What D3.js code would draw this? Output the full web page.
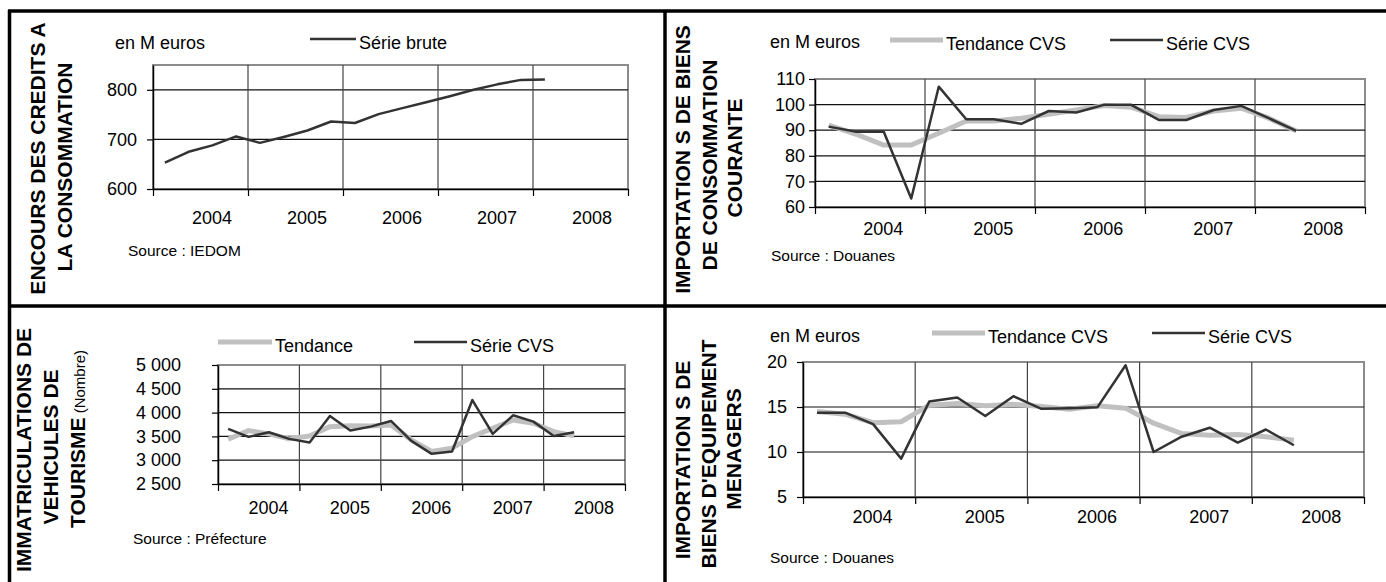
<!DOCTYPE html>
<html>
<head>
<meta charset="utf-8">
<script src="https://cdn.jsdelivr.net/npm/d3@7"></script>
<style>
body { margin: 0; background: #fff; }
svg { display: block; }
text { font-family: "Liberation Sans", Arial, sans-serif; fill: #000; }
</style>
</head>
<body>
<svg id="chart"></svg>
<script>
// quarterly series, first point = 2004 Q1
var years = [2004, 2005, 2006, 2007, 2008];

var creditsBrute = [653, 675, 688, 706, 693, 705, 718, 736, 733, 751, 763, 775, 787, 800, 811, 820, 821];
var creditsTicks = [600, 700, 800];

var consoTendance = [92, 88.4, 84.2, 84.2, 88.8, 93.6, 93.6, 94.7, 96.2, 97.9, 99.6, 99.0, 95.3, 95, 97.5, 98.6, 94.7, 89.7];
var consoCvs = [91.4, 89.4, 89.4, 63.3, 107, 94.3, 94.3, 92.5, 97.5, 96.9, 99.9, 99.9, 94, 94, 97.9, 99.5, 94.7, 89.7];
var consoTicks = [60, 70, 80, 90, 100, 110];

var immatTendance = [3441, 3622, 3552, 3448, 3510, 3705, 3726, 3720, 3740, 3427, 3182, 3253, 3496, 3671, 3845, 3776, 3600, 3510];
var immatCvs = [3657, 3490, 3588, 3448, 3370, 3929, 3622, 3705, 3824, 3406, 3134, 3182, 4264, 3552, 3943, 3810, 3510, 3588];
var immatTicks = [2500, 3000, 3500, 4000, 4500, 5000];

var menagersTendance = [14.5, 14.2, 13.25, 13.36, 15.2, 15.4, 15.15, 15.3, 15.05, 14.75, 15.15, 14.87, 13.2, 12.05, 11.87, 11.95, 11.7, 11.3];
var menagersCvs = [14.37, 14.37, 13.1, 9.26, 15.6, 16.05, 14.0, 16.2, 14.8, 14.87, 14.98, 19.64, 10.0, 11.7, 12.7, 11.05, 12.5, 10.75];
var menagersTicks = [5, 10, 15, 20];

var width = 1386, height = 582;
var darkColor = "#333333", trendColor = "#c0c0c0";
var frLocale = d3.formatLocale({ decimal: ",", thousands: " ", grouping: [3], currency: ["", " €"] });

var svg = d3.select("#chart").attr("width", width).attr("height", height);

// panel frame
var frame = [
    [8, 11, width, 11],
    [9.5, 10, 9.5, height],
    [665, 10, 665, height],
    [8, 306, width, 306]
];
svg.selectAll(".frame").data(frame).enter().append("line")
    .attr("x1", function (d) { return d[0]; })
    .attr("y1", function (d) { return d[1]; })
    .attr("x2", function (d) { return d[2]; })
    .attr("y2", function (d) { return d[3]; })
    .attr("stroke", "#000").attr("stroke-width", 3.5);

var panels = [
    {
        x0: 153, x1: 628, y0: 65, y1: 189, domain: [600, 850], ticks: creditsTicks, pad: 10,
        fmt: d3.format("d"), yearBase: 224,
        series: [{ values: creditsBrute, color: darkColor, w: 2.5 }],
        title: ["ENCOURS DES CREDITS A", "LA CONSOMMATION"], titleX: [37, 64], titleY: [158.5, 167],
        unit: { x: 115, y: 49 },
        legend: [{ x: 310, w: 46, y: 39, color: darkColor, sw: 2.5, label: "Série brute" }],
        source: { text: "Source : IEDOM", x: 128, y: 256 }, unitShow: true
    },
    {
        x0: 815, x1: 1365, y0: 79, y1: 207, domain: [60, 110], ticks: consoTicks, pad: 4,
        fmt: d3.format("d"), yearBase: 235,
        series: [{ values: consoTendance, color: trendColor, w: 5 }, { values: consoCvs, color: darkColor, w: 2.5 }],
        title: ["IMPORTATION S DE BIENS", "DE CONSOMMATION", "COURANTE"], titleX: [682, 709, 734], titleY: [159.5, 165, 158],
        unit: { x: 770, y: 48 },
        legend: [
            { x: 890, w: 53, y: 40, color: trendColor, sw: 5, label: "Tendance CVS" },
            { x: 1110, w: 53, y: 40, color: darkColor, sw: 2.5, label: "Série CVS" }
        ],
        source: { text: "Source : Douanes", x: 771, y: 261 }, unitShow: true
    },
    {
        x0: 218, x1: 625, y0: 365, y1: 484, domain: [2500, 5000], ticks: immatTicks, pad: 31,
        fmt: frLocale.format(","), yearBase: 514,
        series: [{ values: immatTendance, color: trendColor, w: 5 }, { values: immatCvs, color: darkColor, w: 2.5 }],
        title: ["IMMATRICULATIONS DE", "VEHICULES DE", "TOURISME"], titleX: [23, 50, 77], titleY: [450, 447, 439],
        titleNote: " (Nombre)",
        legend: [
            { x: 218, w: 54, y: 342, color: trendColor, sw: 5, label: "Tendance" },
            { x: 414, w: 53, y: 342, color: darkColor, sw: 2.5, label: "Série CVS" }
        ],
        source: { text: "Source : Préfecture", x: 133, y: 544 }, unitShow: false
    },
    {
        x0: 803, x1: 1364, y0: 362, y1: 497, domain: [5, 20], ticks: menagersTicks, pad: 10,
        fmt: d3.format("d"), yearBase: 523,
        series: [{ values: menagersTendance, color: trendColor, w: 5 }, { values: menagersCvs, color: darkColor, w: 2.5 }],
        title: ["IMPORTATION S DE", "BIENS D'EQUIPEMENT", "MENAGERS"], titleX: [682, 708, 733], titleY: [460, 454, 449],
        unit: { x: 770, y: 342 },
        legend: [
            { x: 932, w: 53, y: 333, color: trendColor, sw: 5, label: "Tendance CVS" },
            { x: 1152, w: 53, y: 333, color: darkColor, sw: 2.5, label: "Série CVS" }
        ],
        source: { text: "Source : Douanes", x: 770, y: 563 }, unitShow: true
    }
];

panels.forEach(drawPanel);

function drawPanel(p) {
    var yearEdges = years.concat([years[years.length - 1] + 1]);
    var x = d3.scaleLinear().domain([yearEdges[0], yearEdges[yearEdges.length - 1]]).range([p.x0, p.x1]);
    var y = d3.scaleLinear().domain(p.domain).range([p.y1, p.y0]);
    var g = svg.append("g");

    // plot area border
    g.append("rect")
        .attr("x", p.x0).attr("y", p.y0)
        .attr("width", p.x1 - p.x0).attr("height", p.y1 - p.y0)
        .attr("fill", "none").attr("stroke", "#8c8c8c").attr("stroke-width", 2);

    // gridlines
    g.selectAll(".hgrid")
        .data(p.ticks.filter(function (t) { return t > p.domain[0] && t < p.domain[1]; }))
        .enter().append("line")
        .attr("x1", p.x0).attr("x2", p.x1)
        .attr("y1", function (d) { return y(d); }).attr("y2", function (d) { return y(d); })
        .attr("stroke", "#111").attr("stroke-width", 1.2);

    g.selectAll(".vgrid")
        .data(yearEdges.slice(1, -1))
        .enter().append("line")
        .attr("x1", function (d) { return x(d); }).attr("x2", function (d) { return x(d); })
        .attr("y1", p.y0).attr("y2", p.y1)
        .attr("stroke", "#444").attr("stroke-width", 1.2);

    // axes
    var ya = g.append("g").attr("transform", "translate(" + p.x0 + ",0)")
        .call(d3.axisLeft(y).tickValues(p.ticks).tickSize(6).tickSizeOuter(0).tickPadding(p.pad).tickFormat(p.fmt));
    var xa = g.append("g").attr("transform", "translate(0," + p.y1 + ")")
        .call(d3.axisBottom(x).tickValues(yearEdges).tickSize(7).tickSizeOuter(0).tickFormat(""));
    [ya, xa].forEach(function (a) {
        a.select(".domain").attr("stroke", "#000").attr("stroke-width", 1.5);
        a.selectAll(".tick line").attr("stroke", "#000").attr("stroke-width", 1.2);
        a.selectAll("text").style("font-size", "18px").attr("fill", "#000");
    });

    g.selectAll(".year")
        .data(years)
        .enter().append("text")
        .attr("x", function (d) { return x(d + 0.62); })
        .attr("y", p.yearBase)
        .attr("text-anchor", "middle")
        .style("font-size", "18px")
        .text(function (d) { return d; });

    // series
    p.series.forEach(function (s) {
        var line = d3.line()
            .x(function (d, i) { return x(years[0] + (i + 0.5) / 4); })
            .y(function (d) { return y(d); });
        g.append("path")
            .datum(s.values)
            .attr("d", line)
            .attr("fill", "none")
            .attr("stroke", s.color)
            .attr("stroke-width", s.w)
            .attr("stroke-linejoin", "round");
    });

    // legend
    p.legend.forEach(function (l) {
        g.append("line")
            .attr("x1", l.x).attr("x2", l.x + l.w)
            .attr("y1", l.y).attr("y2", l.y)
            .attr("stroke", l.color).attr("stroke-width", l.sw);
        g.append("text")
            .attr("x", l.x + l.w + 3).attr("y", l.y + 9.5)
            .style("font-size", "18px")
            .text(l.label);
    });

    if (p.unitShow) {
        g.append("text").attr("x", p.unit.x).attr("y", p.unit.y)
            .style("font-size", "18px").text("en M euros");
    }

    g.append("text").attr("x", p.source.x).attr("y", p.source.y)
        .style("font-size", "15.5px").text(p.source.text);

    // rotated title
    p.title.forEach(function (t, i) {
        var tx = g.append("text")
            .attr("transform", "translate(" + (p.titleX[i] + 7.5) + "," + p.titleY[i] + ") rotate(-90)")
            .attr("text-anchor", "middle")
            .style("font-size", "21px")
            .style("font-weight", "bold");
        tx.append("tspan").text(t);
        if (p.titleNote && i === p.title.length - 1) {
            tx.append("tspan").style("font-weight", "normal").style("font-size", "15px").text(p.titleNote);
        }
    });
}
</script>
</body>
</html>
